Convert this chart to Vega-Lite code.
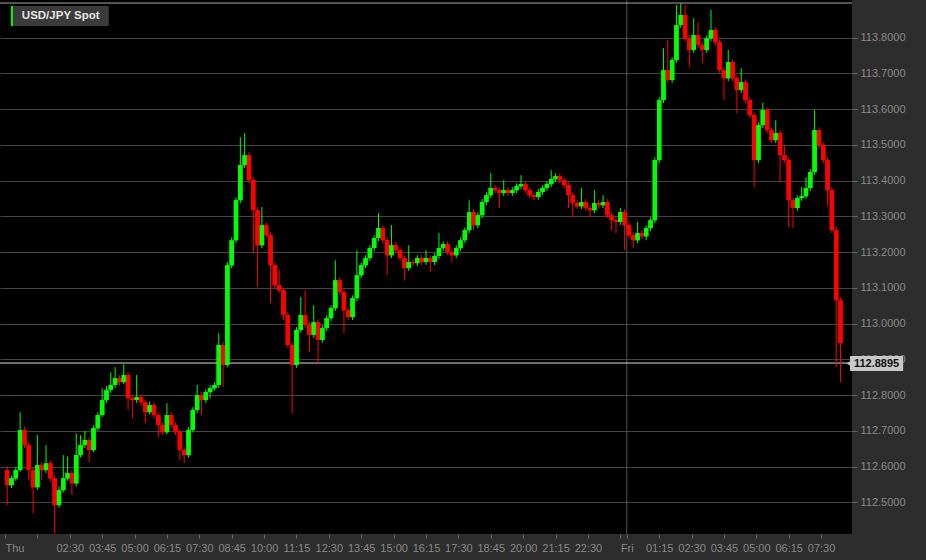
{
  "$schema": "https://vega.github.io/schema/vega-lite/v6.json",
  "width": 852,
  "height": 534,
  "autosize": {"type": "none"},
  "padding": {"left": 0, "top": 0, "right": 74, "bottom": 26},
  "background": "#2d2d2d",
  "config": {
    "view": {"fill": "#000000", "stroke": null},
    "font": "Liberation Sans",
    "axis": {"labelFont": "Liberation Sans", "labelFontSize": 11, "labelColor": "#8a8a8a", "tickColor": "#666666", "domain": false, "title": null, "labelOverlap": false}
  },
  "datasets": {
    "candles": [
      {"t":5,"o":112.590,"h":112.600,"l":112.492,"c":112.548},
      {"t":15,"o":112.548,"h":112.575,"l":112.540,"c":112.567},
      {"t":25,"o":112.567,"h":112.598,"l":112.560,"c":112.590},
      {"t":35,"o":112.590,"h":112.752,"l":112.585,"c":112.702},
      {"t":45,"o":112.702,"h":112.712,"l":112.652,"c":112.660},
      {"t":55,"o":112.660,"h":112.668,"l":112.562,"c":112.590},
      {"t":65,"o":112.590,"h":112.598,"l":112.469,"c":112.542},
      {"t":75,"o":112.542,"h":112.688,"l":112.535,"c":112.604},
      {"t":85,"o":112.604,"h":112.612,"l":112.562,"c":112.590},
      {"t":95,"o":112.590,"h":112.660,"l":112.582,"c":112.609},
      {"t":105,"o":112.609,"h":112.617,"l":112.558,"c":112.567},
      {"t":115,"o":112.567,"h":112.575,"l":112.413,"c":112.492},
      {"t":125,"o":112.492,"h":112.545,"l":112.485,"c":112.534},
      {"t":135,"o":112.534,"h":112.632,"l":112.528,"c":112.567},
      {"t":145,"o":112.567,"h":112.628,"l":112.560,"c":112.582},
      {"t":155,"o":112.582,"h":112.590,"l":112.520,"c":112.553},
      {"t":165,"o":112.553,"h":112.693,"l":112.545,"c":112.632},
      {"t":175,"o":112.632,"h":112.688,"l":112.625,"c":112.660},
      {"t":185,"o":112.660,"h":112.700,"l":112.652,"c":112.674},
      {"t":195,"o":112.674,"h":112.682,"l":112.612,"c":112.646},
      {"t":205,"o":112.646,"h":112.715,"l":112.640,"c":112.707},
      {"t":215,"o":112.707,"h":112.752,"l":112.700,"c":112.744},
      {"t":225,"o":112.744,"h":112.819,"l":112.738,"c":112.786},
      {"t":235,"o":112.786,"h":112.825,"l":112.778,"c":112.814},
      {"t":245,"o":112.814,"h":112.864,"l":112.806,"c":112.828},
      {"t":255,"o":112.828,"h":112.878,"l":112.820,"c":112.847},
      {"t":265,"o":112.847,"h":112.856,"l":112.826,"c":112.836},
      {"t":275,"o":112.836,"h":112.886,"l":112.830,"c":112.856},
      {"t":285,"o":112.856,"h":112.864,"l":112.758,"c":112.791},
      {"t":295,"o":112.791,"h":112.800,"l":112.735,"c":112.786},
      {"t":305,"o":112.786,"h":112.856,"l":112.778,"c":112.794},
      {"t":315,"o":112.794,"h":112.802,"l":112.770,"c":112.780},
      {"t":325,"o":112.780,"h":112.788,"l":112.721,"c":112.752},
      {"t":335,"o":112.752,"h":112.782,"l":112.745,"c":112.772},
      {"t":345,"o":112.772,"h":112.780,"l":112.735,"c":112.744},
      {"t":355,"o":112.744,"h":112.752,"l":112.682,"c":112.716},
      {"t":365,"o":112.716,"h":112.724,"l":112.688,"c":112.696},
      {"t":375,"o":112.696,"h":112.777,"l":112.690,"c":112.744},
      {"t":385,"o":112.744,"h":112.752,"l":112.708,"c":112.716},
      {"t":395,"o":112.716,"h":112.724,"l":112.688,"c":112.696},
      {"t":405,"o":112.696,"h":112.704,"l":112.618,"c":112.646},
      {"t":415,"o":112.646,"h":112.654,"l":112.609,"c":112.632},
      {"t":425,"o":112.632,"h":112.710,"l":112.625,"c":112.702},
      {"t":435,"o":112.702,"h":112.766,"l":112.695,"c":112.758},
      {"t":445,"o":112.758,"h":112.828,"l":112.750,"c":112.800},
      {"t":455,"o":112.800,"h":112.808,"l":112.744,"c":112.786},
      {"t":465,"o":112.786,"h":112.816,"l":112.778,"c":112.808},
      {"t":475,"o":112.808,"h":112.828,"l":112.791,"c":112.819},
      {"t":485,"o":112.819,"h":112.836,"l":112.812,"c":112.828},
      {"t":495,"o":112.828,"h":112.973,"l":112.820,"c":112.940},
      {"t":505,"o":112.940,"h":112.948,"l":112.822,"c":112.884},
      {"t":515,"o":112.884,"h":113.172,"l":112.878,"c":113.163},
      {"t":525,"o":113.163,"h":113.241,"l":113.155,"c":113.233},
      {"t":535,"o":113.233,"h":113.353,"l":113.225,"c":113.345},
      {"t":545,"o":113.345,"h":113.521,"l":113.337,"c":113.443},
      {"t":555,"o":113.443,"h":113.533,"l":113.435,"c":113.471},
      {"t":565,"o":113.471,"h":113.479,"l":113.393,"c":113.401},
      {"t":575,"o":113.401,"h":113.409,"l":113.197,"c":113.317},
      {"t":585,"o":113.317,"h":113.325,"l":113.102,"c":113.219},
      {"t":595,"o":113.219,"h":113.326,"l":113.211,"c":113.275},
      {"t":605,"o":113.275,"h":113.283,"l":113.239,"c":113.247},
      {"t":615,"o":113.247,"h":113.255,"l":113.057,"c":113.163},
      {"t":625,"o":113.163,"h":113.171,"l":113.099,"c":113.107},
      {"t":635,"o":113.107,"h":113.150,"l":113.085,"c":113.093},
      {"t":645,"o":113.093,"h":113.101,"l":113.010,"c":113.024},
      {"t":655,"o":113.024,"h":113.032,"l":112.932,"c":112.940},
      {"t":665,"o":112.940,"h":112.948,"l":112.749,"c":112.884},
      {"t":675,"o":112.884,"h":112.990,"l":112.876,"c":112.982},
      {"t":685,"o":112.982,"h":113.074,"l":112.974,"c":113.024},
      {"t":695,"o":113.024,"h":113.093,"l":112.988,"c":112.996},
      {"t":705,"o":112.996,"h":113.004,"l":112.920,"c":112.968},
      {"t":715,"o":112.968,"h":113.051,"l":112.960,"c":113.004},
      {"t":725,"o":113.004,"h":113.012,"l":112.889,"c":112.954},
      {"t":735,"o":112.954,"h":112.995,"l":112.946,"c":112.987},
      {"t":745,"o":112.987,"h":113.023,"l":112.979,"c":113.015},
      {"t":755,"o":113.015,"h":113.051,"l":113.007,"c":113.043},
      {"t":765,"o":113.043,"h":113.177,"l":113.035,"c":113.121},
      {"t":775,"o":113.121,"h":113.129,"l":113.080,"c":113.088},
      {"t":785,"o":113.088,"h":113.096,"l":112.973,"c":113.037},
      {"t":795,"o":113.037,"h":113.045,"l":113.010,"c":113.018},
      {"t":805,"o":113.018,"h":113.079,"l":113.010,"c":113.071},
      {"t":815,"o":113.071,"h":113.205,"l":113.063,"c":113.135},
      {"t":825,"o":113.135,"h":113.171,"l":113.127,"c":113.163},
      {"t":835,"o":113.163,"h":113.191,"l":113.155,"c":113.183},
      {"t":845,"o":113.183,"h":113.219,"l":113.175,"c":113.211},
      {"t":855,"o":113.211,"h":113.247,"l":113.203,"c":113.239},
      {"t":865,"o":113.239,"h":113.309,"l":113.231,"c":113.267},
      {"t":875,"o":113.267,"h":113.275,"l":113.225,"c":113.233},
      {"t":885,"o":113.233,"h":113.241,"l":113.135,"c":113.191},
      {"t":895,"o":113.191,"h":113.275,"l":113.183,"c":113.219},
      {"t":905,"o":113.219,"h":113.227,"l":113.197,"c":113.205},
      {"t":915,"o":113.205,"h":113.213,"l":113.175,"c":113.183},
      {"t":925,"o":113.183,"h":113.191,"l":113.121,"c":113.155},
      {"t":935,"o":113.155,"h":113.219,"l":113.147,"c":113.172},
      {"t":945,"o":113.172,"h":113.180,"l":113.160,"c":113.169},
      {"t":955,"o":113.169,"h":113.191,"l":113.161,"c":113.183},
      {"t":965,"o":113.183,"h":113.191,"l":113.164,"c":113.172},
      {"t":975,"o":113.172,"h":113.205,"l":113.164,"c":113.183},
      {"t":985,"o":113.183,"h":113.191,"l":113.144,"c":113.172},
      {"t":995,"o":113.172,"h":113.197,"l":113.164,"c":113.189},
      {"t":1005,"o":113.189,"h":113.253,"l":113.181,"c":113.211},
      {"t":1015,"o":113.211,"h":113.230,"l":113.203,"c":113.222},
      {"t":1025,"o":113.222,"h":113.230,"l":113.192,"c":113.200},
      {"t":1035,"o":113.200,"h":113.208,"l":113.172,"c":113.191},
      {"t":1045,"o":113.191,"h":113.219,"l":113.183,"c":113.211},
      {"t":1055,"o":113.211,"h":113.241,"l":113.203,"c":113.233},
      {"t":1065,"o":113.233,"h":113.269,"l":113.225,"c":113.261},
      {"t":1075,"o":113.261,"h":113.345,"l":113.253,"c":113.312},
      {"t":1085,"o":113.312,"h":113.320,"l":113.261,"c":113.275},
      {"t":1095,"o":113.275,"h":113.311,"l":113.267,"c":113.303},
      {"t":1105,"o":113.303,"h":113.348,"l":113.295,"c":113.340},
      {"t":1115,"o":113.340,"h":113.367,"l":113.332,"c":113.359},
      {"t":1125,"o":113.359,"h":113.421,"l":113.351,"c":113.379},
      {"t":1135,"o":113.379,"h":113.387,"l":113.365,"c":113.373},
      {"t":1145,"o":113.373,"h":113.381,"l":113.323,"c":113.365},
      {"t":1155,"o":113.365,"h":113.401,"l":113.357,"c":113.373},
      {"t":1165,"o":113.373,"h":113.381,"l":113.357,"c":113.365},
      {"t":1175,"o":113.365,"h":113.381,"l":113.357,"c":113.373},
      {"t":1185,"o":113.373,"h":113.392,"l":113.365,"c":113.384},
      {"t":1195,"o":113.384,"h":113.415,"l":113.376,"c":113.390},
      {"t":1205,"o":113.390,"h":113.398,"l":113.365,"c":113.373},
      {"t":1215,"o":113.373,"h":113.381,"l":113.351,"c":113.359},
      {"t":1225,"o":113.359,"h":113.367,"l":113.345,"c":113.354},
      {"t":1235,"o":113.354,"h":113.376,"l":113.346,"c":113.368},
      {"t":1245,"o":113.368,"h":113.387,"l":113.360,"c":113.379},
      {"t":1255,"o":113.379,"h":113.398,"l":113.371,"c":113.390},
      {"t":1265,"o":113.390,"h":113.429,"l":113.382,"c":113.404},
      {"t":1275,"o":113.404,"h":113.420,"l":113.396,"c":113.412},
      {"t":1285,"o":113.412,"h":113.420,"l":113.393,"c":113.401},
      {"t":1295,"o":113.401,"h":113.409,"l":113.379,"c":113.387},
      {"t":1305,"o":113.387,"h":113.395,"l":113.323,"c":113.359},
      {"t":1315,"o":113.359,"h":113.367,"l":113.298,"c":113.337},
      {"t":1325,"o":113.337,"h":113.345,"l":113.320,"c":113.328},
      {"t":1335,"o":113.328,"h":113.379,"l":113.320,"c":113.340},
      {"t":1345,"o":113.340,"h":113.348,"l":113.315,"c":113.323},
      {"t":1355,"o":113.323,"h":113.331,"l":113.298,"c":113.317},
      {"t":1365,"o":113.317,"h":113.373,"l":113.309,"c":113.337},
      {"t":1375,"o":113.337,"h":113.345,"l":113.323,"c":113.331},
      {"t":1385,"o":113.331,"h":113.359,"l":113.323,"c":113.340},
      {"t":1395,"o":113.340,"h":113.348,"l":113.295,"c":113.303},
      {"t":1405,"o":113.303,"h":113.311,"l":113.261,"c":113.289},
      {"t":1415,"o":113.289,"h":113.297,"l":113.253,"c":113.284},
      {"t":1425,"o":113.284,"h":113.323,"l":113.276,"c":113.312},
      {"t":1435,"o":113.312,"h":113.320,"l":113.205,"c":113.275},
      {"t":1445,"o":113.275,"h":113.283,"l":113.239,"c":113.247},
      {"t":1455,"o":113.247,"h":113.255,"l":113.211,"c":113.233},
      {"t":1465,"o":113.233,"h":113.284,"l":113.225,"c":113.253},
      {"t":1475,"o":113.253,"h":113.261,"l":113.236,"c":113.244},
      {"t":1485,"o":113.244,"h":113.275,"l":113.233,"c":113.267},
      {"t":1495,"o":113.267,"h":113.297,"l":113.259,"c":113.289},
      {"t":1505,"o":113.289,"h":113.465,"l":113.281,"c":113.457},
      {"t":1515,"o":113.457,"h":113.633,"l":113.449,"c":113.625},
      {"t":1525,"o":113.625,"h":113.770,"l":113.617,"c":113.709},
      {"t":1535,"o":113.709,"h":113.793,"l":113.673,"c":113.681},
      {"t":1545,"o":113.681,"h":113.745,"l":113.673,"c":113.737},
      {"t":1555,"o":113.737,"h":113.891,"l":113.729,"c":113.835},
      {"t":1565,"o":113.835,"h":113.896,"l":113.827,"c":113.863},
      {"t":1575,"o":113.863,"h":113.891,"l":113.790,"c":113.798},
      {"t":1585,"o":113.798,"h":113.806,"l":113.717,"c":113.765},
      {"t":1595,"o":113.765,"h":113.854,"l":113.757,"c":113.807},
      {"t":1605,"o":113.807,"h":113.843,"l":113.771,"c":113.779},
      {"t":1615,"o":113.779,"h":113.787,"l":113.728,"c":113.765},
      {"t":1625,"o":113.765,"h":113.806,"l":113.757,"c":113.798},
      {"t":1635,"o":113.798,"h":113.877,"l":113.790,"c":113.821},
      {"t":1645,"o":113.821,"h":113.829,"l":113.779,"c":113.787},
      {"t":1655,"o":113.787,"h":113.795,"l":113.701,"c":113.709},
      {"t":1665,"o":113.709,"h":113.717,"l":113.625,"c":113.686},
      {"t":1675,"o":113.686,"h":113.765,"l":113.678,"c":113.731},
      {"t":1685,"o":113.731,"h":113.739,"l":113.678,"c":113.686},
      {"t":1695,"o":113.686,"h":113.694,"l":113.589,"c":113.653},
      {"t":1705,"o":113.653,"h":113.714,"l":113.645,"c":113.675},
      {"t":1715,"o":113.675,"h":113.683,"l":113.617,"c":113.625},
      {"t":1725,"o":113.625,"h":113.633,"l":113.575,"c":113.583},
      {"t":1735,"o":113.583,"h":113.591,"l":113.382,"c":113.457},
      {"t":1745,"o":113.457,"h":113.563,"l":113.449,"c":113.555},
      {"t":1755,"o":113.555,"h":113.617,"l":113.547,"c":113.597},
      {"t":1765,"o":113.597,"h":113.605,"l":113.533,"c":113.541},
      {"t":1775,"o":113.541,"h":113.549,"l":113.505,"c":113.513},
      {"t":1785,"o":113.513,"h":113.569,"l":113.505,"c":113.533},
      {"t":1795,"o":113.533,"h":113.541,"l":113.396,"c":113.471},
      {"t":1805,"o":113.471,"h":113.499,"l":113.449,"c":113.457},
      {"t":1815,"o":113.457,"h":113.465,"l":113.270,"c":113.345},
      {"t":1825,"o":113.345,"h":113.353,"l":113.267,"c":113.323},
      {"t":1835,"o":113.323,"h":113.359,"l":113.315,"c":113.351},
      {"t":1845,"o":113.351,"h":113.382,"l":113.343,"c":113.356},
      {"t":1855,"o":113.356,"h":113.409,"l":113.348,"c":113.379},
      {"t":1865,"o":113.379,"h":113.432,"l":113.371,"c":113.424},
      {"t":1875,"o":113.424,"h":113.597,"l":113.416,"c":113.541},
      {"t":1885,"o":113.541,"h":113.549,"l":113.491,"c":113.499},
      {"t":1895,"o":113.499,"h":113.507,"l":113.449,"c":113.457},
      {"t":1905,"o":113.457,"h":113.465,"l":113.331,"c":113.373},
      {"t":1915,"o":113.373,"h":113.381,"l":113.253,"c":113.261},
      {"t":1925,"o":113.261,"h":113.273,"l":112.878,"c":113.065},
      {"t":1935,"o":113.065,"h":113.073,"l":112.836,"c":112.945}
    ],
    "one": [{}]
  },
  "layer": [
    {
      "data": {"name": "candles"},
      "mark": {"type": "bar", "size": 4.4},
      "encoding": {
        "x": {
          "field": "t", "type": "quantitative",
          "scale": {"domain": [0, 1950], "nice": false, "zero": false},
          "axis": {
            "values": [0,75,150,225,300,375,450,525,600,675,750,825,900,975,1050,1125,1200,1275,1350,1425,1440,1515,1590,1665,1740,1815,1890],
            "tickCount": 60,
            "labelExpr": "datum.value == 0 ? 'Thu' : datum.value == 1440 ? 'Fri' : (datum.value == 75 || datum.value == 1425) ? '' : ((floor((datum.value % 1440) / 60) < 10 ? '0' : '') + floor((datum.value % 1440) / 60) + ':' + ((datum.value % 60) < 10 ? '0' : '') + (datum.value % 60))",
            "labelAlign": {"condition": {"test": "datum.value == 0", "value": "left"}, "value": "center"},
            "grid": false, "tickSize": 4, "labelPadding": 4, "labelFlush": false, "labelOverlap": false, "labelBound": false, "title": null
          }
        },
        "y": {
          "field": "o", "type": "quantitative",
          "scale": {"domain": [112.4113, 113.905], "nice": false, "zero": false},
          "axis": {
            "orient": "right",
            "values": [112.5,112.6,112.7,112.8,112.9,113.0,113.1,113.2,113.3,113.4,113.5,113.6,113.7,113.8],
            "tickCount": 40,
            "format": ".4f", "grid": true, "gridColor": "#444444", "gridWidth": 1,
            "tickSize": 5, "labelPadding": 3, "labelOverlap": false, "title": null
          }
        },
        "y2": {"field": "c"},
        "color": {"condition": {"test": "datum.c >= datum.o", "value": "#00ff00"}, "value": "#ff0000"}
      }
    },
    {
      "data": {"name": "one"},
      "mark": {"type": "rule", "color": "#555555", "strokeWidth": 1},
      "encoding": {
        "x": {"datum": 1440, "type": "quantitative"}
      }
    },
    {
      "data": {"name": "one"},
      "mark": {"type": "rule", "color": "#a8a8a8", "strokeWidth": 1},
      "encoding": {
        "y": {"datum": 113.8965, "type": "quantitative"}
      }
    },
    {
      "data": {"name": "one"},
      "mark": {"type": "rule", "color": "#d8d8d8", "strokeWidth": 1},
      "encoding": {
        "y": {"datum": 112.8895, "type": "quantitative"}
      }
    },
    {
      "data": {"name": "candles"},
      "mark": {"type": "rule", "strokeWidth": 1},
      "encoding": {
        "x": {"field": "t", "type": "quantitative"},
        "y": {"field": "l", "type": "quantitative"},
        "y2": {"field": "h"},
        "color": {"condition": {"test": "datum.c >= datum.o", "value": "#00ff00"}, "value": "#ff0000"}
      }
    },
    {
      "data": {"name": "candles"},
      "mark": {"type": "bar", "size": 4.4},
      "encoding": {
        "x": {"field": "t", "type": "quantitative"},
        "y": {"field": "o", "type": "quantitative"},
        "y2": {"field": "c"},
        "color": {"condition": {"test": "datum.c >= datum.o", "value": "#00ff00"}, "value": "#ff0000"}
      }
    },
    {
      "data": {"name": "one"},
      "mark": {"type": "rect", "color": "#3b3b3b"},
      "encoding": {
        "x": {"datum": 13.7, "type": "quantitative"},
        "x2": {"datum": 240.3},
        "y": {"datum": 113.8882, "type": "quantitative"},
        "y2": {"datum": 113.8323}
      }
    },
    {
      "data": {"name": "one"},
      "mark": {"type": "rect", "color": "#00ff00"},
      "encoding": {
        "x": {"datum": 13.7, "type": "quantitative"},
        "x2": {"datum": 18.3},
        "y": {"datum": 113.8882, "type": "quantitative"},
        "y2": {"datum": 113.8323}
      }
    },
    {
      "data": {"name": "one"},
      "mark": {"type": "text", "text": "USD/JPY Spot", "align": "left", "baseline": "middle", "fontSize": 11.5, "fontWeight": "bold", "color": "#e6e6e6"},
      "encoding": {
        "x": {"datum": 39, "type": "quantitative"},
        "y": {"datum": 113.859, "type": "quantitative"}
      }
    },
    {
      "data": {"name": "one"},
      "mark": {"type": "rect", "color": "#c8c8c8"},
      "encoding": {
        "x": {"datum": 1957, "type": "quantitative"},
        "x2": {"datum": 2080},
        "y": {"datum": 112.9092, "type": "quantitative"},
        "y2": {"datum": 112.8672}
      }
    },
    {
      "data": {"name": "one"},
      "mark": {"type": "point", "shape": "triangle-left", "filled": true, "size": 28, "color": "#c8c8c8", "opacity": 1},
      "encoding": {
        "x": {"datum": 1954.5, "type": "quantitative"},
        "y": {"datum": 112.8882, "type": "quantitative"}
      }
    },
    {
      "data": {"name": "one"},
      "mark": {"type": "text", "text": "112.8895", "align": "center", "baseline": "middle", "fontSize": 11, "fontWeight": "bold", "color": "#111111"},
      "encoding": {
        "x": {"datum": 2018.5, "type": "quantitative"},
        "y": {"datum": 112.8882, "type": "quantitative"}
      }
    }
  ]
}
